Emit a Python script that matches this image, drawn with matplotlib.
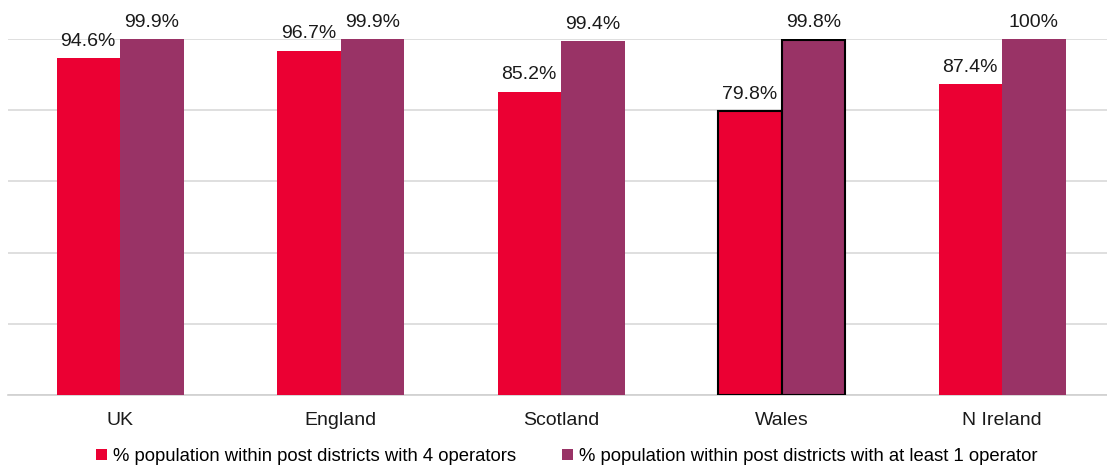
import numpy as np
import matplotlib.pyplot as plt

plt.rcParams['font.family'] = ['Liberation Sans', 'DejaVu Sans']

# Coverage by nation
nations = ["UK", "England", "Scotland", "Wales", "N Ireland"]
four_ops = [94.6, 96.7, 85.2, 79.8, 87.4]
one_op = [99.9, 99.9, 99.4, 99.8, 100]
four_labels = ["94.6%", "96.7%", "85.2%", "79.8%", "87.4%"]
one_labels = ["99.9%", "99.9%", "99.4%", "99.8%", "100%"]

red = "#EB0033"
purple = "#993366"
fs = 14

fig = plt.figure(figsize=(11.07, 4.70), dpi=100)
ax = fig.add_axes([8 / 1107, 75 / 470, 1099 / 1107, 356 / 470])

x = np.arange(len(nations))
w = 0.288
b1 = ax.bar(x - w / 2, four_ops, w, color=red, zorder=3,
            label="% population within post districts with 4 operators")
b2 = ax.bar(x + w / 2, one_op, w, color=purple, zorder=3,
            label="% population within post districts with at least 1 operator")

# outline the Wales pair
for b in (b1[3], b2[3]):
    b.set_edgecolor("black")
    b.set_linewidth(1.5)

for bars, labels in ((b1, four_labels), (b2, one_labels)):
    for rect, lab in zip(bars, labels):
        ax.annotate(lab, (rect.get_x() + rect.get_width() / 2, rect.get_height()),
                    xytext=(0, 6), textcoords="offset points", ha="center",
                    va="bottom", fontsize=fs, color="#1a1a1a",
                    annotation_clip=False)

ax.set_xlim(-0.508, 4.476)
ax.set_ylim(0, 100)
ax.set_yticks([0, 20, 40, 60, 80, 100])
ax.set_yticklabels([])
ax.set_xticks(x)
ax.set_xticklabels(nations, fontsize=fs, color="#1a1a1a")
ax.tick_params(axis="both", length=0)
ax.tick_params(axis="x", pad=12)
ax.grid(axis="y", color="#D9D9D9", linewidth=1.2, zorder=0)
for side in ["top", "right", "left"]:
    ax.spines[side].set_visible(False)
ax.spines["bottom"].set_color("#D0D0D0")
ax.spines["bottom"].set_linewidth(1.2)

fig.legend(handles=[b1, b2], loc="lower center", bbox_to_anchor=(0.512, -0.025),
           ncol=2, frameon=False, fontsize=13.3, handlelength=0.6,
           handleheight=0.6, handletextpad=0.3, columnspacing=2.5)

plt.savefig("out.png", dpi=100)
